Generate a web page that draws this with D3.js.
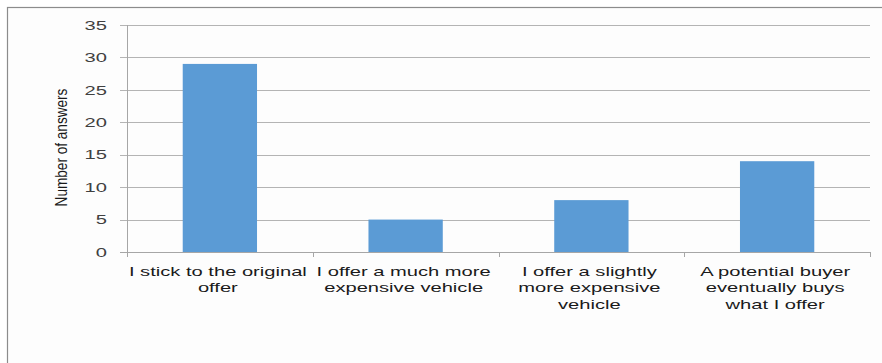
<!DOCTYPE html>
<html><head><meta charset="utf-8">
<script src="https://cdn.jsdelivr.net/npm/d3@7"></script>
<style>
html,body{margin:0;padding:0;background:#fff;}
svg{display:block;}
</style></head>
<body>
<svg id="c" width="882" height="363"></svg>
<script>
const categories = [
  ["I stick to the original", "offer"],
  ["I offer a much more", "expensive vehicle"],
  ["I offer a slightly", "more expensive", "vehicle"],
  ["A potential buyer", "eventually buys", "what I offer"]
];
const values = [29, 5, 8, 14];
const yTicks = [0, 5, 10, 15, 20, 25, 30, 35];
const yTitle = "Number of answers";

const svg = d3.select("#c");
const W = 882, H = 363;
const m = {left: 127, right: 12, top: 25, bottom: 111};
const FONT = "Liberation Sans, Arial, sans-serif";
const SX = 1.55;

svg.append("rect").attr("x", 7.5).attr("y", 7.5).attr("width", W).attr("height", H)
  .attr("fill", "#fdfdfd").attr("stroke", "#8c8c8c").attr("stroke-width", 1.2);

const x = d3.scaleBand().domain(d3.range(categories.length))
  .range([m.left, W - m.right]).paddingInner(0.6).paddingOuter(0.3);
const xb = d3.scaleBand().domain(d3.range(categories.length)).range([m.left, W - m.right]);
const y = d3.scaleLinear().domain([0, 35]).range([H - m.bottom, m.top]);

// gridlines
const g = svg.append("g");
g.selectAll("line.grid").data(yTicks).join("line")
  .attr("x1", m.left - 7).attr("x2", W - m.right)
  .attr("y1", d => Math.round(y(d)) + 0.5).attr("y2", d => Math.round(y(d)) + 0.5)
  .attr("stroke", d => d === 0 ? "#a6a6a6" : "#b4b4b4").attr("stroke-width", 1);

// y axis line
g.append("line").attr("x1", m.left + 0.5).attr("x2", m.left + 0.5)
  .attr("y1", y(35)).attr("y2", y(0)).attr("stroke", "#a6a6a6");

// x ticks
const bounds = d3.range(categories.length + 1).map(i => i < categories.length ? xb(i) : xb(i - 1) + xb.bandwidth());
g.selectAll("line.xt").data(bounds).join("line")
  .attr("x1", d => Math.round(d) + 0.5).attr("x2", d => Math.round(d) + 0.5)
  .attr("y1", y(0)).attr("y2", y(0) + 5).attr("stroke", "#a6a6a6");

// bars
svg.selectAll("rect.bar").data(values).join("rect")
  .attr("x", (d, i) => x(i)).attr("width", x.bandwidth())
  .attr("y", d => y(d)).attr("height", d => y(0) - y(d))
  .attr("fill", "#5b9bd5");

// y tick labels
svg.selectAll("text.yl").data(yTicks).join("text")
  .attr("transform", d => `translate(107,${y(d)}) scale(${SX},1)`)
  .attr("dy", "0.36em")
  .attr("text-anchor", "end")
  .attr("font-family", FONT).attr("font-size", 13)
  .attr("fill", "#404040").text(d => d);

// x labels
const xl = svg.selectAll("text.xl").data(categories).join("text")
  .attr("transform", (d, i) => `translate(${xb(i) + xb.bandwidth() / 2 - 2},0) scale(${SX},1)`)
  .attr("text-anchor", "middle")
  .attr("font-family", FONT).attr("font-size", 13)
  .attr("fill", "#1a1a1a");
xl.each(function(lines, i) {
  const t = d3.select(this);
  lines.forEach((l, j) => {
    t.append("tspan").attr("x", 0).attr("y", 276 + j * 16.5).text(l);
  });
});

// y title
svg.append("text")
  .attr("transform", `translate(67,${(y(0) + y(35)) / 2 + 9}) rotate(-90) scale(0.8,1)`)
  .attr("text-anchor", "middle")
  .attr("font-family", FONT).attr("font-size", 17)
  .attr("fill", "#1a1a1a").text(yTitle);
</script>
</body></html>
